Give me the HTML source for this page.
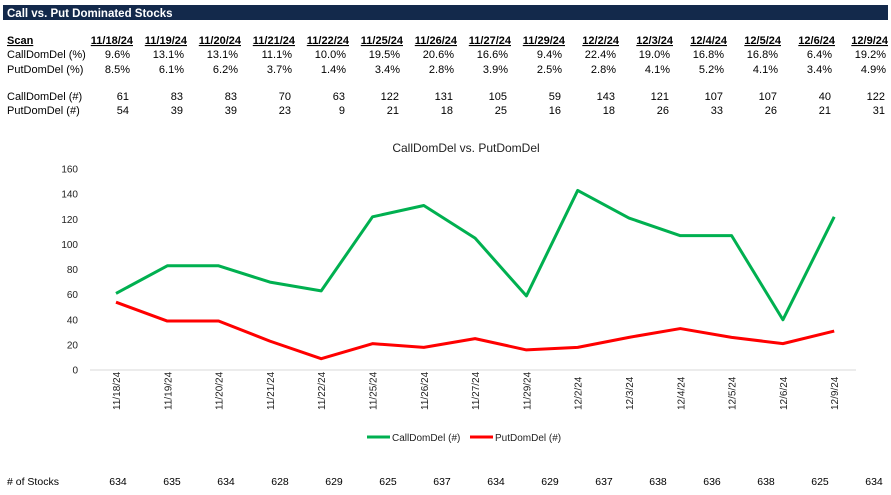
<!DOCTYPE html>
<html><head><meta charset="utf-8"><style>
body{margin:0;background:#fff;width:891px;height:490px;overflow:hidden;font-family:"Liberation Sans",sans-serif}
</style></head><body>
<svg width="891" height="490" xmlns="http://www.w3.org/2000/svg" font-family="Liberation Sans, sans-serif">
<rect x="3" y="5" width="885" height="15" fill="#13294b"/>
<text x="7" y="17" fill="#fff" font-size="11.5" font-weight="bold">Call vs. Put Dominated Stocks</text>
<g font-size="11" fill="#000">
<text x="7" y="44" font-weight="bold" text-decoration="underline">Scan</text>
<text x="7" y="58">CallDomDel (%)</text>
<text x="7" y="73">PutDomDel (%)</text>
<text x="7" y="100">CallDomDel (#)</text>
<text x="7" y="114">PutDomDel (#)</text>
<text x="7" y="485" font-size="10.5"># of Stocks</text>
</g>
<g id="tbl" font-size="11" text-anchor="end"></g>
<text x="466" y="152" font-size="12" text-anchor="middle" fill="#222">CallDomDel vs. PutDomDel</text>
<g id="yax" font-size="10" text-anchor="end" fill="#222"></g>
<line x1="90" y1="370" x2="856" y2="370" stroke="#d9d9d9" stroke-width="1"/>
<g id="xax" font-size="10" fill="#222"></g>
<polyline id="g" fill="none" stroke="#00b050" stroke-width="3" stroke-linejoin="round"/>
<polyline id="r" fill="none" stroke="#ff0000" stroke-width="3" stroke-linejoin="round"/>
<line x1="367" y1="437" x2="390" y2="437" stroke="#00b050" stroke-width="3"/>
<text x="392" y="441" font-size="10" fill="#222">CallDomDel (#)</text>
<line x1="470" y1="437" x2="493" y2="437" stroke="#ff0000" stroke-width="3"/>
<text x="495" y="441" font-size="10" fill="#222">PutDomDel (#)</text>
<g id="ns" font-size="10.5" text-anchor="middle"></g>
</svg>
<script>
const d=["11/18/24","11/19/24","11/20/24","11/21/24","11/22/24","11/25/24","11/26/24","11/27/24","11/29/24","12/2/24","12/3/24","12/4/24","12/5/24","12/6/24","12/9/24"];
const cp=["9.6%","13.1%","13.1%","11.1%","10.0%","19.5%","20.6%","16.6%","9.4%","22.4%","19.0%","16.8%","16.8%","6.4%","19.2%"];
const pp=["8.5%","6.1%","6.2%","3.7%","1.4%","3.4%","2.8%","3.9%","2.5%","2.8%","4.1%","5.2%","4.1%","3.4%","4.9%"];
const c=[61,83,83,70,63,122,131,105,59,143,121,107,107,40,122];
const p=[54,39,39,23,9,21,18,25,16,18,26,33,26,21,31];
const n=[634,635,634,628,629,625,637,634,629,637,638,636,638,625,634];
const NS="http://www.w3.org/2000/svg";
function t(g,x,y,s,extra){const e=document.createElementNS(NS,"text");e.setAttribute("x",x);e.setAttribute("y",y);e.textContent=s;if(extra)for(const k in extra)e.setAttribute(k,extra[k]);document.getElementById(g).appendChild(e);}
for(let i=0;i<15;i++){const x=133+54.0*i;
t("tbl",x+(i==14?-1:0),44,d[i],{"font-weight":"bold","text-decoration":"underline"});
t("tbl",x-3,58,cp[i]);t("tbl",x-3,73,pp[i]);t("tbl",x-4,100,c[i]);t("tbl",x-4,114,p[i]);
t("ns",118+54.0*i,485,n[i]);}
for(let v=0;v<=160;v+=20)t("yax",78,370-v*1.2556+3.5,v);
let gp="",rp="";
for(let i=0;i<15;i++){const x=116+51.3*i;gp+=x+","+(370-c[i]*1.2556)+" ";rp+=x+","+(370-p[i]*1.2556)+" ";
t("xax",0,0,d[i],{transform:`translate(${x+4},${410}) rotate(-90)`});}
document.getElementById("g").setAttribute("points",gp);
document.getElementById("r").setAttribute("points",rp);
</script>
</body></html>
